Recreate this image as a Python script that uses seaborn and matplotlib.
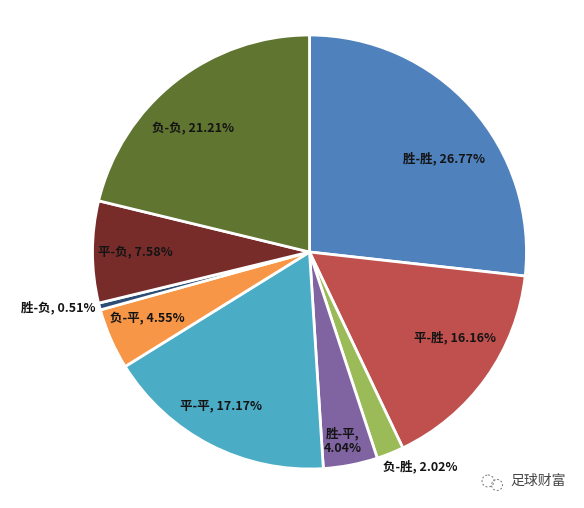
import matplotlib
matplotlib.use("Agg")
import matplotlib.pyplot as plt
from matplotlib.patches import Circle
import seaborn as sns

sns.set_theme(style="white")
plt.rcParams['font.family'] = ['Noto Sans CJK SC', 'DejaVu Sans']

labels = ["胜-胜", "平-胜", "负-胜", "胜-平", "平-平", "负-平", "胜-负", "平-负", "负-负"]
values = [26.77, 16.16, 2.02, 4.04, 17.17, 4.55, 0.51, 7.58, 21.21]
colors = ["#4f81bd", "#c0504d", "#9bbb59", "#8064a2", "#4bacc6", "#f79646", "#2c4d75", "#772c2a", "#5f7530"]
texts = ["胜-胜, 26.77%", "平-胜, 16.16%", "负-胜, 2.02%", "胜-平,\n4.04%", "平-平, 17.17%",
         "负-平, 4.55%", "胜-负, 0.51%", "平-负, 7.58%", "负-负, 21.21%"]
label_xy = [(444, 159), (455, 338), (420, 467), (343, 441), (221, 406), (147, 319), (58, 308), (135, 253), (193, 129)]
W, H = 584, 508
fig = plt.figure(figsize=(W/100, H/100), dpi=100, facecolor="white")
cx, cy, r = 309.5, 252, 217
ax = fig.add_axes([(cx-r)/W, 1-(cy+r)/H, 2*r/W, 2*r/H])
ax.pie(values, colors=colors, startangle=90, counterclock=False, radius=1,
       wedgeprops=dict(edgecolor="white", linewidth=2))
ax.set_xlim(-1, 1); ax.set_ylim(-1, 1)
ax.set_aspect("equal"); ax.axis("off")
for t, (x, y) in zip(texts, label_xy):
    fig.text(x/W, 1-y/H, t, ha="center", va="center", fontsize=9, fontweight="bold", color="#141414", linespacing=1.15)
fig.text(538/W, 1-481/H, "足球财富", ha="center", va="center", fontsize=10, color="#444444")
# watermark icon
overlay = fig.add_axes([0, 0, 1, 1], facecolor="none")
overlay.set_xlim(0, W); overlay.set_ylim(H, 0); overlay.axis("off")
overlay.add_patch(Circle((488, 481), 6, fill=False, ec="#777777", lw=0.7, ls=(0, (2, 2))))
overlay.add_patch(Circle((497, 485), 5.5, fill=False, ec="#777777", lw=0.7, ls=(0, (2, 2))))
fig.savefig("out.png", dpi=100, facecolor="white")
